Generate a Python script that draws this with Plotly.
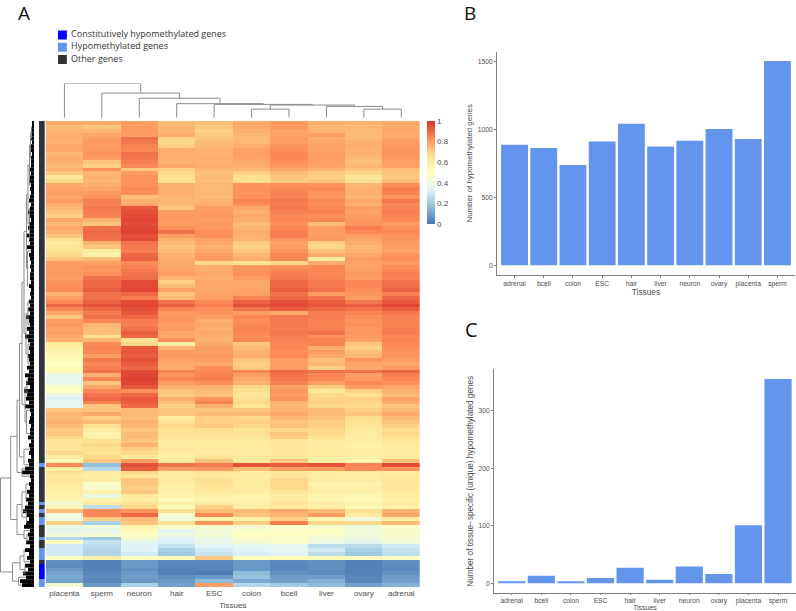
import plotly.graph_objects as go

W, H = 796, 611

# ---------- data ----------
heat_tissues = ["placenta", "sperm", "neuron", "hair", "ESC", "colon", "bcell", "liver", "ovary", "adrenal"]
bar_tissues = ["adrenal", "bcell", "colon", "ESC", "hair", "liver", "neuron", "ovary", "placenta", "sperm"]
hypo_counts = [889, 864, 739, 913, 1043, 876, 918, 1004, 930, 1505]
unique_counts = [2.3, 13, 2.3, 9, 27, 6, 29, 16, 101, 355]
legend_labels = ["Constitutively hypomethylated genes", "Hypomethylated genes", "Other genes"]
legend_colors = ["#0000FF", "#6495ED", "#333333"]

# methylation (percent) per gene block, read top to bottom
heat_top = [
    [78,78,80,74,73,78,81,77,76,78],[74,72,80,76,72,78,81,75,75,78],[76,75,81,75,70,76,79,76,74,78],
    [77,78,80,77,71,75,79,80,74,77],[77,80,88,69,72,74,80,77,74,79],[76,81,87,68,74,75,80,78,76,80],
    [78,80,85,70,75,77,82,79,77,81],[78,81,84,77,76,79,83,79,76,82],[75,82,88,77,76,80,84,80,76,82],
    [77,80,87,77,77,79,84,80,74,81],[76,72,86,76,76,78,83,80,73,80],[74,70,84,78,77,77,81,79,75,79],
    [76,83,71,70,75,75,78,76,72,73],[72,75,80,68,73,70,74,71,69,72],[62,76,82,65,74,66,72,70,63,71],
    [68,75,82,66,73,67,71,72,65,74],[78,77,83,76,75,82,83,82,75,83],[79,78,84,76,74,83,84,84,76,86],
    [80,81,83,77,75,82,85,82,76,85],[78,83,73,76,74,83,85,82,75,82],[80,86,76,75,76,85,87,84,78,87],
    [77,85,78,74,77,83,86,83,76,84],[75,87,93,72,80,78,87,84,80,85],[72,86,94,80,81,76,85,85,79,86],
    [70,85,95,81,81,78,84,83,80,85],[78,76,96,81,80,77,84,84,81,84],[75,72,95,80,81,74,83,74,82,80],
    [78,88,96,83,81,75,84,80,86,83],[76,90,97,88,83,77,86,80,84,84],[72,89,94,80,83,76,86,80,80,82],
]
heat_upper_mid = [
    [66,88,95,76,79,76,82,81,78,82],[62,76,88,74,78,71,79,70,77,80],[64,72,87,72,76,69,80,68,75,80],
    [66,60,86,74,78,72,82,73,76,79],[68,56,90,76,80,75,84,77,78,82],[72,74,91,77,80,77,84,60,80,83],
    [80,80,84,78,68,65,68,77,79,80],[81,82,85,78,77,81,83,84,79,83],[80,81,87,79,77,82,85,85,80,84],
    [81,83,88,80,78,83,86,84,81,86],[80,88,89,76,77,80,87,85,80,85],[82,90,95,70,78,78,90,87,84,88],
    [83,90,95,74,78,78,90,87,84,89],[84,92,96,79,78,79,92,88,83,91],[76,88,90,72,79,80,88,80,82,86],
    [80,88,86,74,80,85,90,88,80,90],[84,91,95,88,84,91,94,92,87,93],[90,94,96,91,86,94,95,93,92,96],
    [84,90,94,85,83,88,92,90,88,92],[78,86,93,81,82,80,78,86,85,87],[72,88,90,82,80,84,87,86,83,85],
    [80,84,86,82,77,83,87,85,82,85],[81,75,86,80,78,84,87,85,83,85],[79,74,88,81,77,85,86,86,81,86],
    [80,73,92,78,78,84,87,88,82,86],[78,66,90,78,77,83,86,83,81,84],[76,75,66,83,76,84,85,85,79,85],
    [62,84,68,58,78,72,84,85,72,84],[58,85,93,76,80,74,84,77,70,83],[56,84,93,80,80,76,83,80,73,82],
    [55,80,92,81,81,77,84,78,75,82],
]
heat_lower_mid = [
    [52,87,94,79,80,72,80,73,82,80],[50,84,92,78,78,70,80,75,79,78],[52,86,90,77,83,71,80,70,78,81],
    [53,88,95,85,84,85,90,88,88,90],[38,76,96,82,85,80,88,85,80,86],[36,84,97,84,86,78,87,84,81,84],
    [38,72,96,80,83,76,85,80,84,83],[48,78,93,76,76,68,80,70,80,78],[50,84,83,72,74,65,82,62,70,76],
    [38,88,90,71,73,64,80,68,66,74],[33,90,93,76,82,66,82,69,70,79],[36,85,92,73,85,68,76,70,68,77],
    [36,72,90,70,76,64,75,68,68,72],[72,72,74,72,72,72,76,74,70,74],[75,78,74,72,74,74,78,74,72,78],
    [74,70,73,62,70,68,75,72,67,74],[76,74,76,66,70,70,72,70,66,72],[74,66,75,68,72,68,73,70,64,70],
    [71,60,72,66,67,65,68,68,62,67],[72,56,74,65,66,66,72,68,61,68],[68,58,74,64,65,64,70,65,60,66],
    [64,66,72,62,63,62,64,62,60,64],[66,68,76,60,62,62,64,60,58,61],[64,66,70,63,62,60,62,62,58,62],
    [68,65,68,60,60,62,64,62,60,60],[60,68,62,58,64,62,62,60,58,60],[55,72,80,62,73,62,72,58,56,72],
    [84,17,94,88,87,94,92,94,85,95],[60,25,92,80,82,74,80,80,84,82],[66,62,68,62,64,62,64,62,60,62],
    [62,60,64,60,62,60,64,60,60,62],
]
heat_bottom = [
    [64,60,72,62,67,62,68,60,60,64],[62,48,72,60,66,62,68,56,56,64],[60,46,70,58,64,60,68,58,58,64],
    [58,56,72,58,62,60,64,60,58,62],[58,40,62,56,58,56,60,56,54,60],[54,56,60,52,56,56,60,54,52,58],
    [44,62,66,58,60,58,64,60,56,60],[54,26,68,52,70,58,62,58,54,58],[74,84,82,66,74,74,78,74,66,76],
    [42,84,90,45,84,72,75,80,62,78],[40,70,74,42,56,58,70,54,42,60],[70,22,72,66,82,70,86,68,68,74],
    [40,42,56,48,46,44,48,46,42,48],[36,38,52,36,42,48,48,50,42,46],[42,44,48,40,44,50,50,46,42,46],
    [24,20,46,34,38,46,46,42,40,44],[50,28,36,32,38,44,48,40,36,42],[30,26,34,28,34,36,36,26,26,30],
    [30,24,34,22,30,34,36,30,22,28],[30,24,30,20,28,32,34,26,20,26],[50,58,50,52,72,50,52,52,50,50],
    [6,3,8,5,5,8,5,6,3,6],[5,3,8,4,4,8,4,6,3,5],[8,3,6,3,4,8,4,6,3,4],
    [10,4,8,3,2,16,6,5,3,6],[12,5,9,6,8,18,9,9,4,9],[10,4,8,8,16,12,10,14,4,10],
    [44,8,22,10,80,24,20,16,10,14],
]
hypo_rows = [88, 98, 100, 102, 103, 107, 110, 111, 112, 118, 119]
constitutive_rows = [114, 115, 116, 117]

# depth of the dense leaf fringe of the gene dendrogram, per block
leaf_depth = [2,2,3,2,3,2,3,3,2,3, 3,3,4,3,4,5,3,4,3,4, 5,3,4,6,4,3,5,6,4,7,
              5,4,7,3,5,4,3,4,3,4, 4,3,5,3,4,3,5,4,6,4, 8,5,4,7,5,9,6,4,5,4,6,
              5,4,7,5,9,6,8,4,10,7, 8,5,9,4,3,4,5,3,4,4, 6,3,5,4,5,3,6,5,9,12,4,
              3,5,4,7,5,8,6,9,11,7, 5,8,10,4,6,5,8,4,9,5, 7,4,9,6,11,8,14,12]

# gene dendrogram: (height, child, child); integers are gene blocks
row_tree = (33.5,
    (23.3,
        (17,
            (14.5,
                (12,
                    (10,
                        (7.5,
                            (6, (4.5, (3.5, (2.5, 1, 4), 9), 16), (4.5, 22, 30)),
                            (6.5, 33, 42)),
                        (8, (6, 46, 52), (6, 57, 62))),
                    (9, (7, 66, 70), (7.5, 74, 80))),
                (10, 84, 88)),
            (12, 89, 91)),
        (17,
            (12, (8, 93, 97), (7.5, 100, 103)),
            (10, 105, (7, 106, 108)))),
    (21.5,
        (14, (10, 110, 113), (9, 114, 116)),
        (15.5, 117, 119)))

# tissue dendrogram: (height, child, child); integers index heat_tissues
col_tree = (1.0, 0, (0.72, 1, (0.57, 2, (0.41, 3, (0.39, 4,
            (0.37, (0.25, 5, 6), (0.33, 7, (0.25, 8, 9))))))))

heat_cscale = [[0, "#4575B4"], [1/6, "#91BFDB"], [2/6, "#E0F3F8"], [3/6, "#FFFFBF"],
               [4/6, "#FEE090"], [5/6, "#FC8D59"], [1, "#D73027"]]


# ---------- helpers ----------
def dx(a, b):
    return [a / W, b / W]


def dy(top, bottom):
    return [1 - bottom / H, 1 - top / H]


def walk(node, leaf_h, along, across):
    """Returns (position, height) of node and appends its branch segments."""
    if isinstance(node, int):
        return node, leaf_h(node)
    h, a, b = node
    pa, ha = walk(a, leaf_h, along, across)
    pb, hb = walk(b, leaf_h, along, across)
    along += [pa, pa, pb, pb, None]
    across += [ha, h, h, hb, None]
    return (pa + pb) / 2, h


heat = heat_top + heat_upper_mid + heat_lower_mid + heat_bottom
z = [[v / 100 for v in row] for row in heat]
rows = list(range(len(z)))
side = [[2 if r in constitutive_rows else 1 if r in hypo_rows else 0] for r in rows]

fig = go.Figure()

# main heatmap
fig.add_trace(go.Heatmap(
    z=z, x=heat_tissues, y=rows, zmin=0, zmax=1, colorscale=heat_cscale, xaxis="x", yaxis="y",
    colorbar=dict(x=427 / W, xanchor="left", y=1 - 121 / H, yanchor="top", len=103, lenmode="pixels",
                  thickness=8, thicknessmode="pixels", xpad=0, ypad=0, outlinewidth=0, ticks="",
                  tickvals=[0, .2, .4, .6, .8, 1], ticktext=["0", "0.2", "0.4", "0.6", "0.8", "1"],
                  tickfont=dict(family="Liberation Sans", size=8, color="#4d4d4d"))))
# gene class strip
fig.add_trace(go.Heatmap(
    z=side, x=["class"], y=rows, zmin=0, zmax=2, showscale=False, xaxis="x2", yaxis="y",
    colorscale=[[0, legend_colors[2]], [.5, legend_colors[1]], [1, legend_colors[0]]]))
# dendrogram fringe
fig.add_trace(go.Bar(x=leaf_depth, y=rows, orientation="h", width=1, marker=dict(color="#000000", line_width=0),
                     xaxis="x3", yaxis="y"))
ya, xa = [], []
walk(row_tree, lambda r: leaf_depth[r], ya, xa)
fig.add_trace(go.Scatter(x=xa, y=ya, mode="lines", line=dict(color="#808080", width=0.9),
                         xaxis="x3", yaxis="y"))
# tissue dendrogram
pos_x, hgt = [], []
walk(col_tree, lambda c: 0, pos_x, hgt)
fig.add_trace(go.Scatter(x=pos_x, y=hgt, mode="lines", line=dict(color="#8a8a8a", width=1),
                         xaxis="x4", yaxis="y4"))
# legend
fig.add_trace(go.Scatter(x=[0, 0, 0], y=[0, 1, 2], mode="markers",
                         marker=dict(symbol="square", size=9, color=legend_colors),
                         xaxis="x5", yaxis="y5"))
fig.add_trace(go.Scatter(x=[0.052, 0.052, 0.052], y=[0, 1, 2], mode="text", text=legend_labels,
                         textposition="middle right", cliponaxis=False,
                         textfont=dict(family="Open Sans", size=9, color="#333333"),
                         xaxis="x5", yaxis="y5"))
# bars
fig.add_trace(go.Bar(x=bar_tissues, y=hypo_counts, width=0.92, marker=dict(color="#6495ED", line_width=0),
                     xaxis="x6", yaxis="y6"))
fig.add_trace(go.Bar(x=bar_tissues, y=unique_counts, width=0.92, marker=dict(color="#6495ED", line_width=0),
                     xaxis="x7", yaxis="y7"))

hidden = dict(visible=False, showgrid=False, zeroline=False, fixedrange=True)
lab = dict(family="Liberation Sans", color="#4d4d4d")


def bar_x(a, b, anchor, standoff, title_size, ticklen):
    return dict(domain=dx(a, b), anchor=anchor, type="category", categoryorder="array", categoryarray=bar_tissues,
                range=[-0.6, 9.6], showline=True, linecolor="#7f7f7f", linewidth=1, ticks="outside", ticklen=ticklen,
                tickcolor="#7f7f7f", tickwidth=0.8, showgrid=False, zeroline=False,
                tickfont=dict(size=6.7, **lab),
                title=dict(text="Tissues", standoff=standoff, font=dict(size=title_size, **lab)))


def bar_y(top, bottom, rng, tickvals, anchor, title, standoff, title_size):
    return dict(domain=dy(top, bottom), anchor=anchor, range=rng, tickvals=tickvals, showline=True,
                linecolor="#7f7f7f", linewidth=1, ticks="outside", ticklen=2, tickcolor="#7f7f7f", tickwidth=0.8,
                showgrid=False, zeroline=False, tickfont=dict(size=6.7, **lab),
                title=dict(text=title, standoff=standoff, font=dict(size=title_size, **lab)))


fig.update_layout(
    width=W, height=H, margin=dict(l=0, r=0, t=0, b=0), autosize=False, showlegend=False,
    paper_bgcolor="white", plot_bgcolor="white",
    xaxis=dict(domain=dx(45.7, 420), anchor="y", type="category", categoryorder="array", categoryarray=heat_tissues,
               showgrid=False, zeroline=False, ticks="", showline=False, tickfont=dict(size=8, **lab),
               title=dict(text="Tissues", standoff=5, font=dict(size=8, **lab))),
    yaxis=dict(domain=dy(121, 587), range=[len(z) - 0.5, -0.5], visible=False, showgrid=False, zeroline=False),
    xaxis2=dict(domain=dx(39, 44.7), anchor="y", **hidden),
    xaxis3=dict(domain=dx(0, 34), anchor="y", range=[34, 0], **hidden),
    xaxis4=dict(domain=dx(45.7, 420), anchor="y4", range=[-0.5, 9.5], **hidden),
    yaxis4=dict(domain=dy(83.5, 117.7), anchor="x4", range=[0, 1], **hidden),
    xaxis5=dict(domain=dx(58, 230), anchor="y5", range=[-0.026, 1], **hidden),
    yaxis5=dict(domain=dy(28.8, 65.7), anchor="x5", range=[2.5, -0.5], **hidden),
    xaxis6=bar_x(497, 795, "y6", 2, 8.3, 2),
    yaxis6=bar_y(51.7, 275, [-71.5, 1574], [0, 500, 1000, 1500], "x6", "Number of hypomethylated genes", 3, 7.9),
    xaxis7=bar_x(494, 795.8, "y7", 2, 7, 1),
    yaxis7=bar_y(369.3, 593.3, [-17.4, 371.8], [0, 100, 200, 300], "x7",
                 "Number of tissue\u2212specific (unique) hypomethylated genes", 3, 8.2),
    annotations=[
        dict(text=t, x=x / W, y=1 - y / H, xref="paper", yref="paper", xanchor="left", yanchor="middle",
             showarrow=False, font=dict(family="Open Sans", size=s, color="#111111"))
        for t, x, y, s in [("A", 16, 13, 19), ("B", 462, 13, 19), ("C", 463, 329, 20)]
    ],
)
fig.write_html("out.html", config={"displayModeBar": False},
               post_script="document.body.style.margin='0';document.body.style.overflow='hidden';")
